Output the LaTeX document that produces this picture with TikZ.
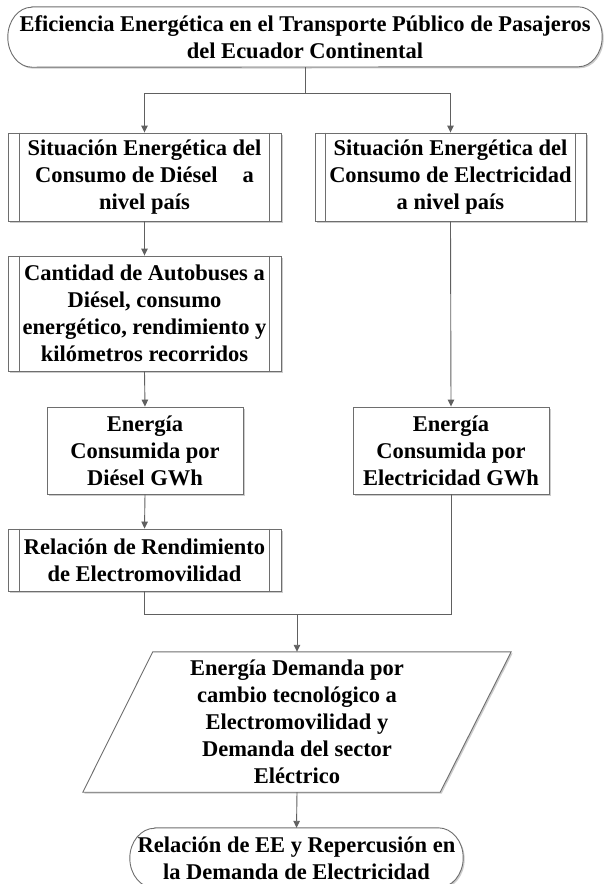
\documentclass[tikz,border=0pt]{standalone}
\usepackage{fontspec}
\setmainfont{Liberation Serif}
\usetikzlibrary{arrows.meta,shadows}
\pgfdeclarelayer{bg}
\pgfsetlayers{bg,main}
\definecolor{linegray}{RGB}{96,96,96}
\definecolor{boxgray}{RGB}{110,110,110}
\begin{document}
\begin{tikzpicture}[x=1pt,y=-1pt,
  txt/.style={font=\fontsize{22.5}{27}\selectfont\bfseries, align=center, text=black, inner sep=0pt},
  myshadow/.style={drop shadow={shadow xshift=1.5pt,shadow yshift=-1.5pt,fill=black!40,opacity=0.5}},
  boxshape/.style={txt, draw=boxgray, line width=0.9pt, fill=white, myshadow},
  outline/.style={draw=boxgray, line width=0.9pt, fill=white, myshadow},
  inner/.style={draw=boxgray, line width=0.9pt},
  conn/.style={draw=linegray, line width=0.9pt},
  arr/.style={conn, -{Triangle[length=7pt,width=6.5pt]}}
]
\useasboundingbox (0,0) rectangle (603,884);

% top terminator
\node[txt, minimum width=594pt, minimum height=60pt] (t1) at (305,37)
  {Eficiencia Energética en el Transporte Público de Pasajeros\\del Ecuador Continental};

% predefined processes and processes
\node[boxshape, minimum width=273pt, minimum height=88pt] (b1) at (144.5,177)
  {Situación Energética del\\Consumo de Diésel\hspace{25pt}a\\nivel país};
\node[boxshape, minimum width=271pt, minimum height=88pt] (b2) at (450.5,177)
  {Situación Energética del\\Consumo de Electricidad\\a nivel país};
\node[boxshape, minimum width=273pt, minimum height=115pt] (b3) at (144.5,313.5)
  {Cantidad de Autobuses a\\Diésel, consumo\\energético, rendimiento y\\kilómetros recorridos};
\node[boxshape, minimum width=196pt, minimum height=87pt] (b4) at (145,450.5)
  {Energía\\Consumida por\\Diésel GWh};
\node[boxshape, minimum width=196pt, minimum height=87pt] (b5) at (451,450.5)
  {Energía\\Consumida por\\Electricidad GWh};
\node[boxshape, minimum width=273pt, minimum height=62pt] (b6) at (144.5,560)
  {Relación de Rendimiento\\de Electromovilidad};

% data (parallelogram)
\node[txt, minimum width=428pt, minimum height=140pt] (p) at (297,722)
  {Energía Demanda por\\cambio tecnológico a\\Electromovilidad y\\Demanda del sector\\Eléctrico};

% bottom terminator
\node[txt, minimum width=333pt, minimum height=60pt] (t2) at (296.5,858)
  {Relación de EE y Repercusión en\\la Demanda de Electricidad};

% shapes drawn behind the texts
\begin{pgfonlayer}{bg}
\path[outline] ([xshift=24pt]t1.north west) -- ([xshift=-24pt]t1.north east)
  arc[start angle=90,end angle=-90,x radius=24pt,y radius=30pt]
  -- ([xshift=24pt]t1.south west)
  arc[start angle=270,end angle=90,x radius=24pt,y radius=30pt] -- cycle;
\path[outline] ([xshift=70pt]p.north west) -- (p.north east)
  -- ([xshift=-71pt]p.south east) -- (p.south west) -- cycle;
\path[outline] ([xshift=25pt]t2.north west) -- ([xshift=-25pt]t2.north east)
  arc[start angle=90,end angle=-90,x radius=25pt,y radius=30pt]
  -- ([xshift=25pt]t2.south west)
  arc[start angle=270,end angle=90,x radius=25pt,y radius=30pt] -- cycle;
\end{pgfonlayer}

% side bars of predefined processes
\foreach \b/\d in {b1/12pt,b2/11pt,b3/12pt,b6/12pt}{
  \draw[inner] ([xshift=\d]\b.north west) -- ([xshift=\d]\b.south west);
  \draw[inner] ([xshift=-\d]\b.north east) -- ([xshift=-\d]\b.south east);
}

% connectors
\coordinate (j1) at (305,93);
\coordinate (j2) at (297,614);
\draw[conn] (t1.south) -- (j1);
\draw[arr] (j1) -| (b1.north);
\draw[arr] (j1) -| (b2.north);
\draw[arr] (b1.south) -- (b3.north);
\draw[arr] (b3.south) -- (b4.north);
\draw[arr] (b2.south) -- (b5.north);
\draw[arr] (b4.south) -- (b6.north);
\draw[conn] (b6.south) |- (j2);
\draw[conn] (b5.south) |- (j2);
\draw[arr] (j2) -- (p.north);
\draw[arr] (p.south) -- (t2.north);
\end{tikzpicture}
\end{document}
